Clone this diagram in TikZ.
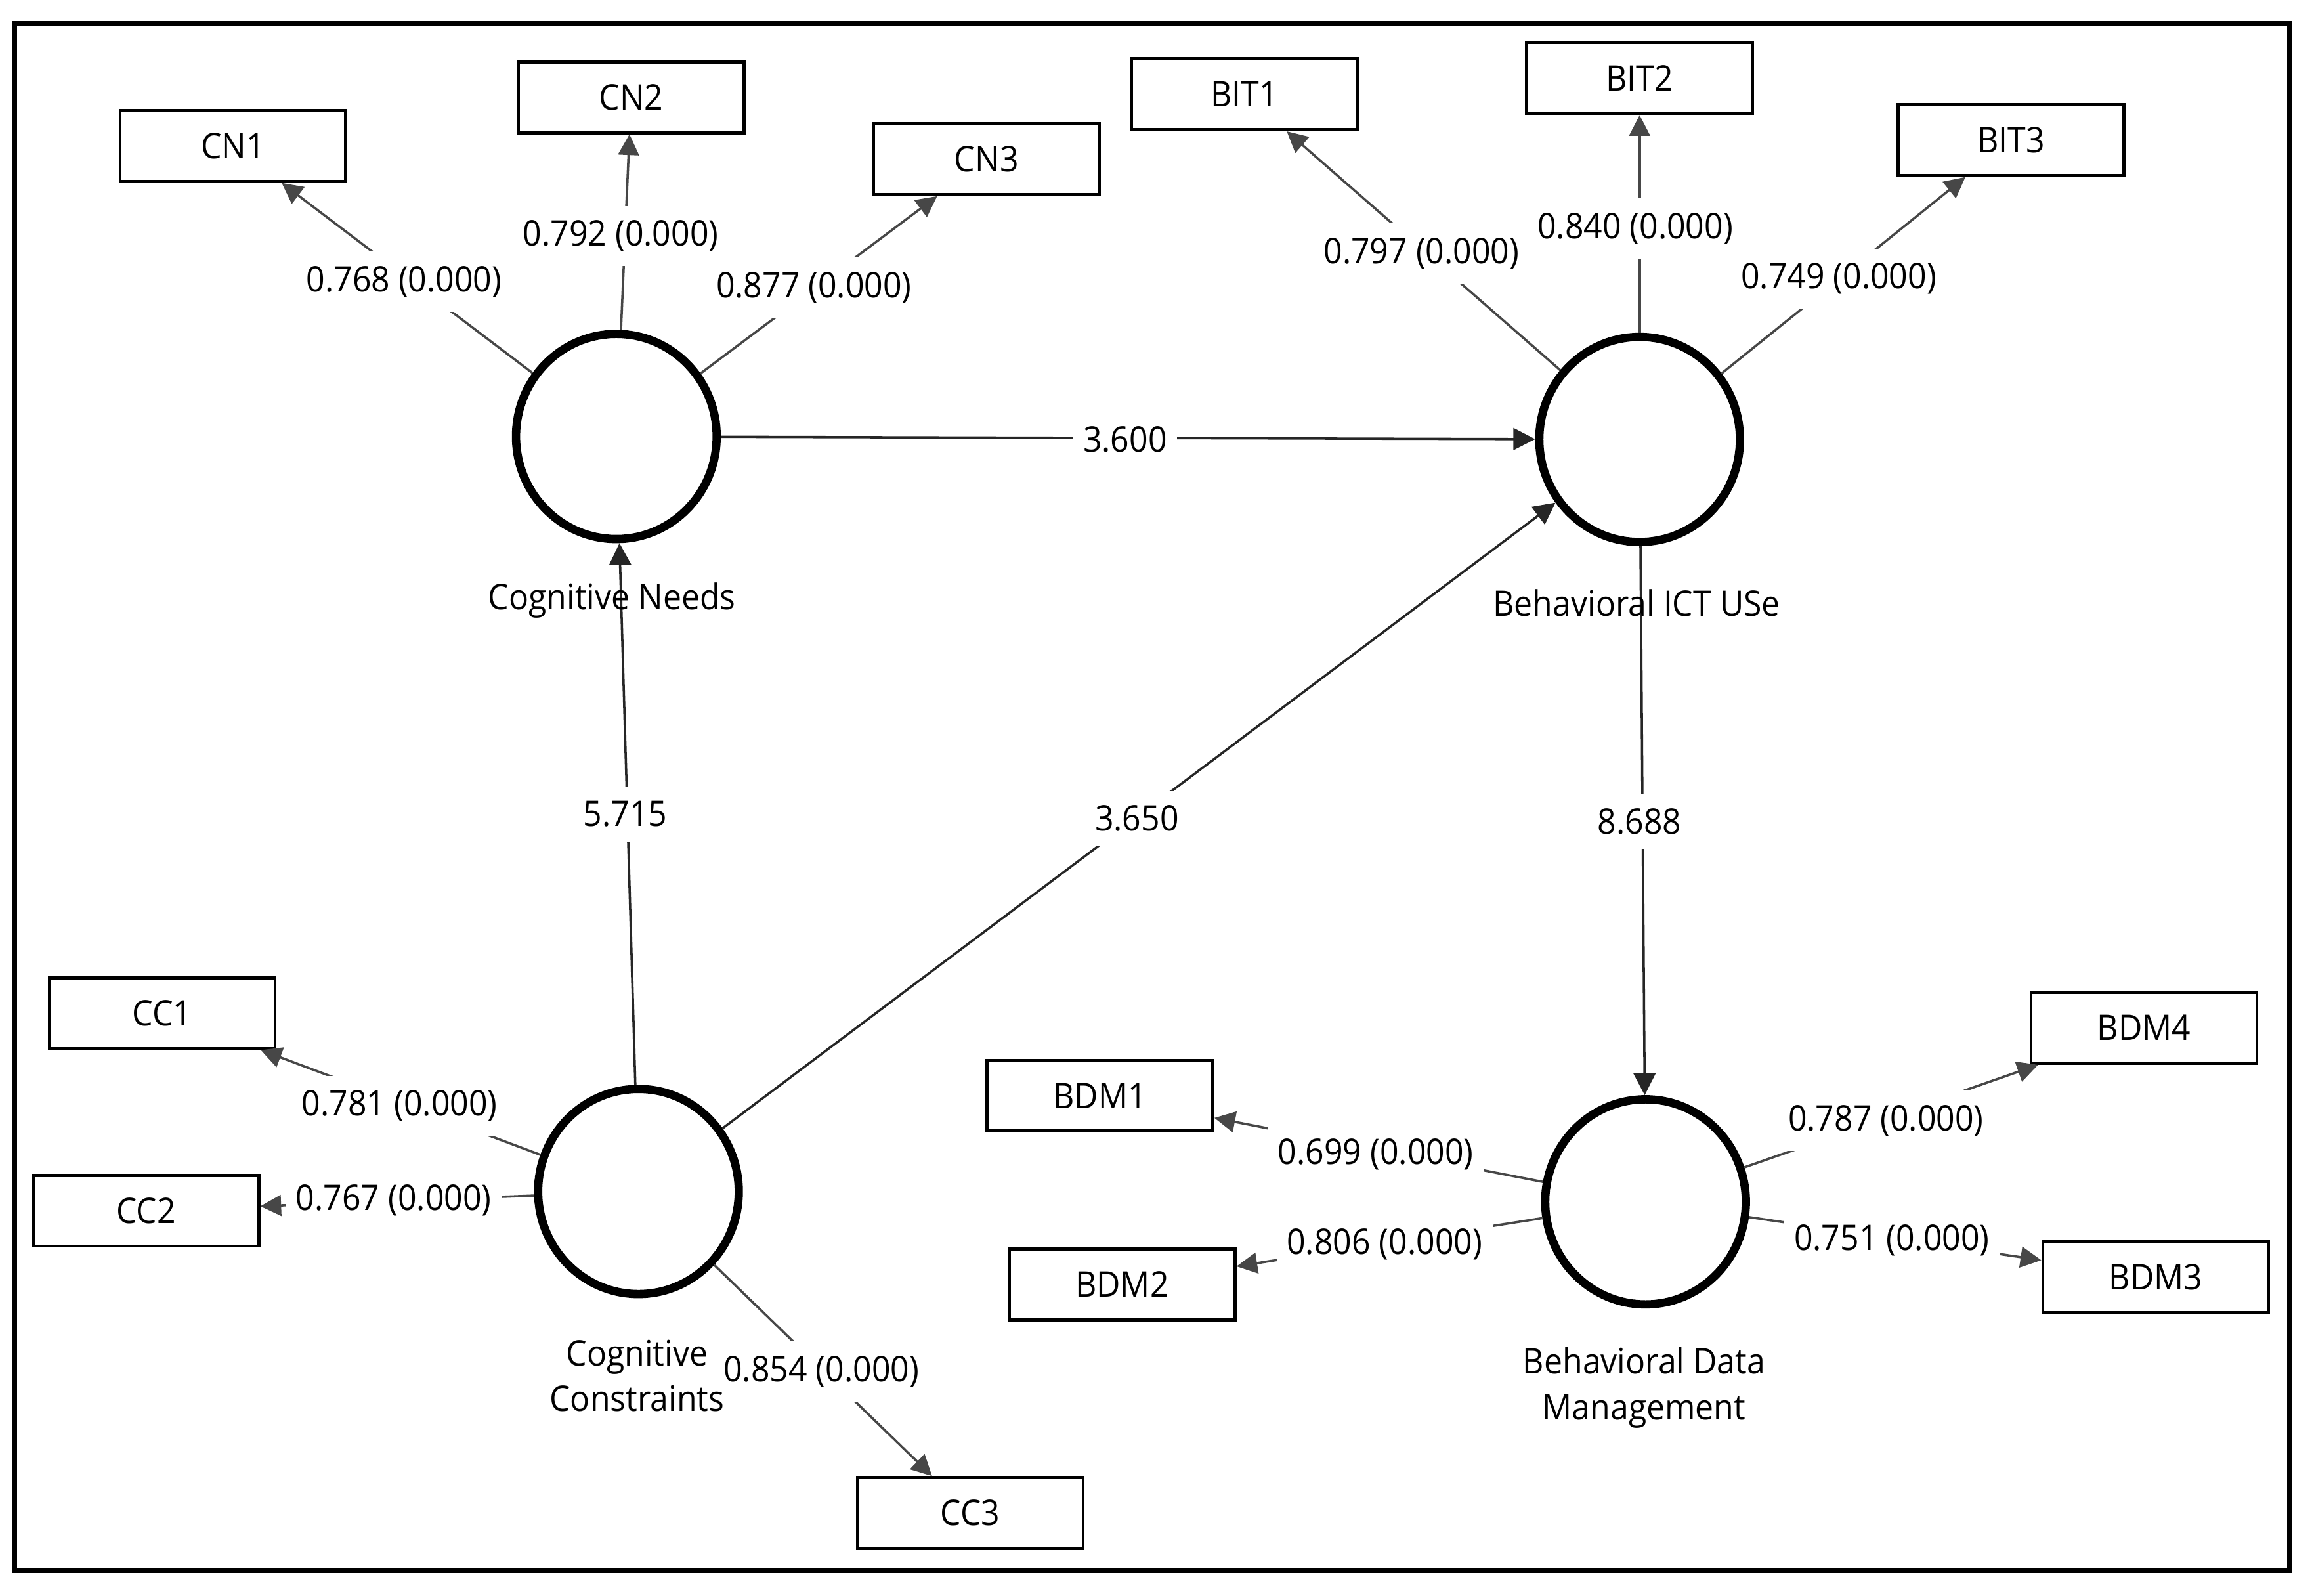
\documentclass[tikz,border=0pt]{standalone}
\usepackage{fontspec}
\setmainfont{Open Sans}[FakeStretch=0.93]
\usetikzlibrary{arrows.meta,shapes.geometric}
\begin{document}
\begin{tikzpicture}[x=0.01cm,y=-0.01cm,
  every node/.style={font=\fontsize{6.8}{8.8}\selectfont},
  ind/.style={draw, line width=0.6pt, minimum width=1.53cm, minimum height=0.48cm, inner sep=0pt},
  lat/.style={draw, ellipse, line width=1.6pt, minimum width=1.36cm, minimum height=1.39cm, inner sep=0pt},
  ld/.style={draw=black!72, line width=0.45pt, -{Triangle[length=4pt,width=4pt]}},
  pth/.style={draw=black!85, line width=0.45pt, -{Triangle[length=4.2pt,width=4.2pt]}},
  lbl/.style={fill=white, inner xsep=2pt, inner ysep=2.8pt},
  latname/.style={align=center, inner sep=0pt}
]
\fill[white] (0,0) rectangle (1568,1082);
\useasboundingbox (0,0) rectangle (1568,1082);
\draw[line width=1pt] (10,16) rectangle (1553,1065);

% latent variables
\node[lat] (CN) at (418,296) {};
\node[lat] (BIT) at (1112,298) {};
\node[lat] (CC) at (433,808) {};
\node[lat] (BDM) at (1116,815) {};

% indicators
\node[ind] (CN1) at (158,99) {CN1};
\node[ind] (CN2) at (428,66) {CN2};
\node[ind] (CN3) at (669,108) {CN3};
\node[ind] (BIT1) at (844,64) {BIT1};
\node[ind] (BIT2) at (1112,53) {BIT2};
\node[ind] (BIT3) at (1364,95) {BIT3};
\node[ind] (CC1) at (110,687) {CC1};
\node[ind] (CC2) at (99,821) {CC2};
\node[ind] (CC3) at (658,1026) {CC3};
\node[ind] (BDM1) at (746,743) {BDM1};
\node[ind] (BDM2) at (761,871) {BDM2};
\node[ind] (BDM4) at (1454,697) {BDM4};
\node[ind] (BDM3) at (1462,866) {BDM3};

% loadings
\draw[ld] (CN) -- (CN1);
\draw[ld] (CN) -- (CN2);
\draw[ld] (CN) -- (CN3);
\draw[ld] (BIT) -- (BIT1);
\draw[ld] (BIT) -- (BIT2);
\draw[ld] (BIT) -- (BIT3);
\draw[ld] (CC) -- (CC1);
\draw[ld] (CC) -- (CC2);
\draw[ld] (CC) -- (CC3);
\draw[ld] (BDM) -- (BDM1);
\draw[ld] (BDM) -- (BDM2);
\draw[ld] (BDM) -- (BDM4);
\draw[ld] (BDM) -- (BDM3);

% structural paths
\draw[pth] (CN) -- (BIT);
\draw[pth] (CC) -- (CN);
\draw[pth] (CC) -- (BIT);
\draw[pth] (BIT) -- (BDM);

% path labels
\node[lbl] (p1) at (763,298) {3.600};
\node[lbl] (p2) at (424,552) {5.715};
\node[lbl] (p3) at (771,555) {3.650};
\node[lbl] (p4) at (1112,557) {8.688};

% loading labels
\node[lbl] (l1) at (274,191) {0.768 (0.000)};
\node[lbl] (l2) at (421,160) {0.792 (0.000)};
\node[lbl] (l3) at (552,195) {0.877 (0.000)};
\node[lbl] (l5) at (1109,155) {0.840 (0.000)};
\node[lbl] (l4) at (964,172) {0.797 (0.000)};
\node[lbl] (l6) at (1247,189) {0.749 (0.000)};
\node[lbl] (l7) at (271,750) {0.781 (0.000)};
\node[lbl] (l8) at (267,814) {0.767 (0.000)};
\node[lbl] (l9) at (557,930) {0.854 (0.000)};
\node[lbl] (l10) at (933,783) {0.699 (0.000)};
\node[lbl] (l11) at (939,844) {0.806 (0.000)};
\node[lbl] (l12) at (1279,760) {0.787 (0.000)};
\node[lbl] (l13) at (1283,841) {0.751 (0.000)};

% latent names
\node[latname] (nCN) at (415,407) {Cognitive Needs};
\node[latname] (nBIT) at (1110,409) {Behavioral ICT USe};
\node[latname] (nCC) at (432,933) {Cognitive\\Constraints};
\node[latname] (nBDM) at (1115,941) {Behavioral Data\\Management};
\end{tikzpicture}
\end{document}
